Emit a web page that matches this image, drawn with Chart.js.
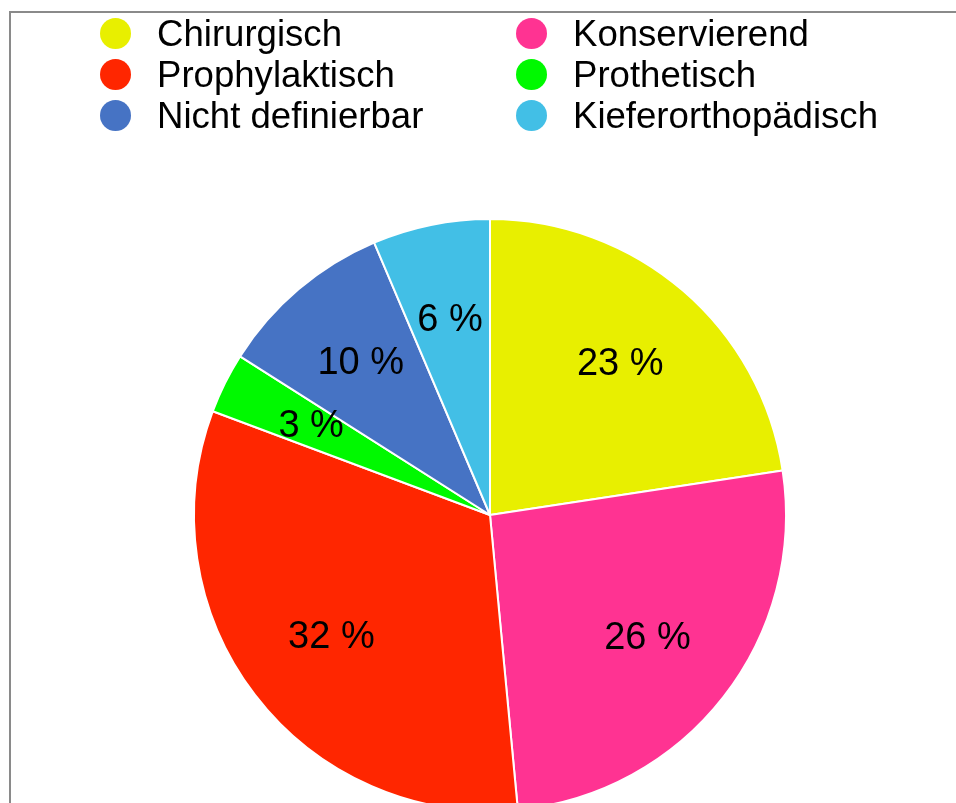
<!DOCTYPE html>
<html>
<head>
<meta charset="utf-8">
<script src="https://cdn.jsdelivr.net/npm/chart.js@4/dist/chart.umd.min.js"></script>
<style>
  html, body { margin: 0; padding: 0; background: #fff; overflow: hidden; width: 956px; height: 803px; }
  body { position: relative; font-family: "Liberation Sans", Arial, sans-serif; }
  #frame { position: absolute; left: 9px; top: 11px; right: -20px; bottom: -20px;
           border-top: 2px solid #8a8a8a; border-left: 2px solid #8a8a8a; }
  #chartBox { position: absolute; left: 0; top: 0; width: 980px; height: 1030px; }
  #legend { position: absolute; left: 100px; top: 13px; display: grid;
            grid-template-columns: 416px auto; }
  .item { display: flex; align-items: center; height: 41px; }
  .dot { width: 31px; height: 31px; border-radius: 50%; margin-right: 26px; flex: none; }
  .txt { font-size: 36.6px; line-height: 41px; color: #000; white-space: nowrap; }
</style>
</head>
<body>
<div id="frame"></div>
<div id="chartBox"><canvas id="pieChart"></canvas></div>
<div id="legend"></div>
<script>
// Categories in slice order (clockwise from 12 o'clock)
const categories = ['Chirurgisch', 'Konservierend', 'Prophylaktisch', 'Prothetisch', 'Nicht definierbar', 'Kieferorthopädisch'];
// Shares in percent
const shares = [22.6, 25.9, 32.2, 3.3, 9.6, 6.4];
const sliceColors = ['#e8ef00', '#ff3392', '#ff2600', '#00f900', '#4673c4', '#42bfe6'];

// Build legend (two columns, row-wise)
const legendEl = document.getElementById('legend');
categories.forEach((name, i) => {
  const item = document.createElement('div');
  item.className = 'item';
  const dot = document.createElement('span');
  dot.className = 'dot';
  dot.style.background = sliceColors[i];
  const txt = document.createElement('span');
  txt.className = 'txt';
  txt.textContent = name;
  item.appendChild(dot);
  item.appendChild(txt);
  legendEl.appendChild(item);
});

// Percent labels inside the slices
const percentLabels = {
  id: 'percentLabels',
  afterDatasetsDraw(chart) {
    const ctx = chart.ctx;
    const meta = chart.getDatasetMeta(0);
    const data = chart.data.datasets[0].data;
    const total = data.reduce((a, b) => a + b, 0);
    ctx.save();
    ctx.font = '38px "Liberation Sans", Arial, sans-serif';
    ctx.fillStyle = '#000';
    ctx.textAlign = 'center';
    ctx.textBaseline = 'middle';
    meta.data.forEach((arc, i) => {
      const p = arc.getProps(['x', 'y', 'startAngle', 'endAngle', 'outerRadius'], true);
      const mid = (p.startAngle + p.endAngle) / 2;
      const r = p.outerRadius * 0.675;
      const label = Math.round(data[i] / total * 100) + ' %';
      ctx.fillText(label, p.x + Math.cos(mid) * r, p.y + Math.sin(mid) * r + 1);
    });
    ctx.restore();
  }
};

let pieChart;

function initChart() {
  const ctx = document.getElementById('pieChart').getContext('2d');
  pieChart = new Chart(ctx, {
    type: 'pie',
    data: {
      labels: categories,
      datasets: [{
        data: shares,
        backgroundColor: sliceColors,
        borderColor: '#ffffff',
        borderWidth: 2
      }]
    },
    options: {
      responsive: true,
      maintainAspectRatio: false,
      animation: false,
      radius: 296,
      layout: { padding: 0 },
      plugins: {
        legend: { display: false },
        tooltip: { enabled: false }
      }
    },
    plugins: [percentLabels]
  });
}

initChart();
</script>
</body>
</html>
